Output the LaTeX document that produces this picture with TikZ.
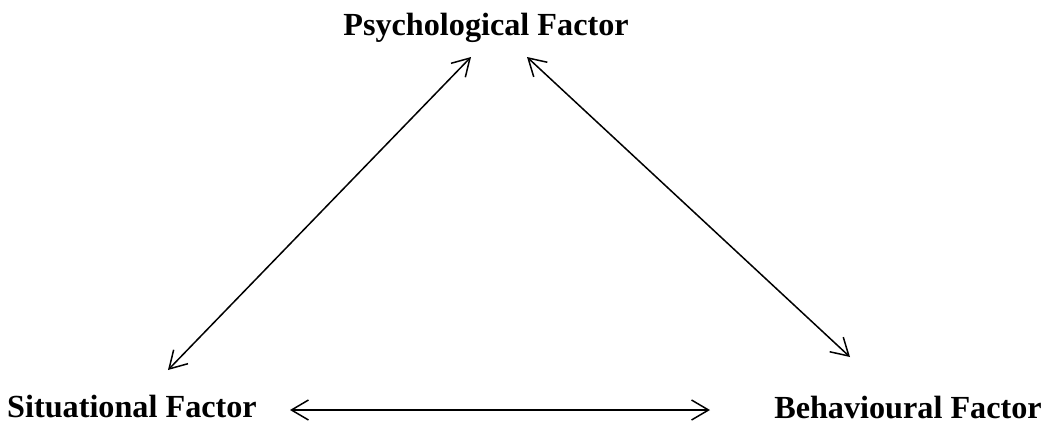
\documentclass[tikz,border=0pt]{standalone}
\usepackage{fontspec}
\setmainfont{Liberation Serif}
\usetikzlibrary{arrows.meta}
\tikzset{
  factor/.style={font=\fontsize{32.2}{37}\selectfont\bfseries, inner sep=0pt, anchor=base},
  link/.style={line width=1.5pt, {Straight Barb[length=17pt,width=20pt]}-{Straight Barb[length=17pt,width=20pt]}}
}
\begin{document}
\begin{tikzpicture}[x=1pt,y=-1pt]
\useasboundingbox (0,0) rectangle (1045,424);
\node[factor] (psy) at (486,35) {Psychological Factor};
\node[factor] (sit) at (132,417) {Situational Factor};
\node[factor] (beh) at (908,418) {Behavioural Factor};
\coordinate (pl) at (471,57);
\coordinate (pr) at (527,57);
\coordinate (sa) at (168,370);
\coordinate (sb) at (290,410);
\coordinate (ba) at (850,357);
\coordinate (bb) at (710,410);
\draw[link] (sa) -- (pl);
\draw[link] (pr) -- (ba);
\draw[link] (sb) -- (bb);
\end{tikzpicture}
\end{document}
